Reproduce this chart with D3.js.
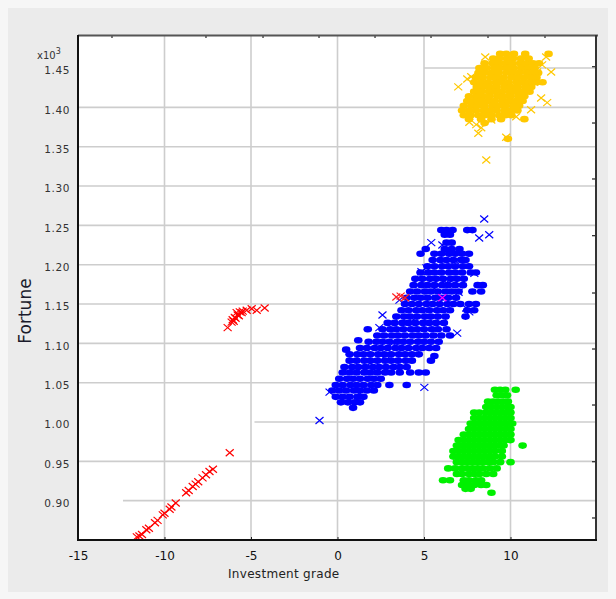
<!DOCTYPE html>
<html>
<head>
<meta charset="utf-8">
<script src="https://cdn.jsdelivr.net/npm/d3@7"></script>
<style>
  body { margin: 0; background: #f6f6f6; }
  svg { display: block; }
</style>
</head>
<body>
<svg id="chart" width="616" height="599"></svg>
<script>
// ---- axis ticks ----
const xTicks = [-15, -10, -5, 0, 5, 10];
const yTicks = [0.90, 0.95, 1.00, 1.05, 1.10, 1.15, 1.20, 1.25, 1.30, 1.35, 1.40, 1.45];

// ---- series (rows of [fortune, [investment grade ...]]) ----
const goldDotRows = [
  [1.468, [9.4, 9.75, 10.2, 10.85, 12.2]],
  [1.462, [9.0, 9.35, 9.8, 10.15, 10.6, 11.05]],
  [1.456, [8.5, 8.95, 9.3, 9.7, 10.1, 10.55, 10.9, 11.3, 11.65]],
  [1.450, [8.2, 8.6, 9.05, 9.4, 9.8, 10.2, 10.65, 11.0, 11.4]],
  [1.444, [8.15, 8.5, 8.9, 9.3, 9.75, 10.1, 10.5, 10.95, 11.3, 11.6]],
  [1.438, [8.0, 8.4, 8.85, 9.2, 9.6, 10.05, 10.4, 10.8, 11.2, 11.5]],
  [1.432, [7.9, 8.3, 8.7, 9.15, 9.5, 9.9, 10.35, 10.7, 11.1, 11.5, 11.85]],
  [1.426, [8.05, 8.4, 8.8, 9.2, 9.65, 10.0, 10.4, 10.85, 11.2]],
  [1.420, [7.9, 8.3, 8.75, 9.1, 9.5, 9.95, 10.3, 10.7, 11.1]],
  [1.414, [7.6, 8.05, 8.4, 8.8, 9.25, 9.6, 10.0, 10.45, 10.8]],
  [1.408, [7.5, 7.9, 8.3, 8.7, 9.1, 9.55, 9.9, 10.3, 10.7]],
  [1.402, [7.3, 7.75, 8.1, 8.5, 8.95, 9.3, 9.7, 10.15, 10.5]],
  [1.396, [7.2, 7.6, 8.0, 8.45, 8.8, 9.2, 9.65, 10.0, 10.4]],
  [1.390, [7.3, 7.7, 8.15, 8.5, 8.9, 9.35, 9.7, 10.05]],
  [1.385, [7.6, 8.3, 8.9, 9.45, 10.8]],
  [1.380, [8.5]],
  [1.360, [9.85]]
];
const goldCrosses = [
  [8.54, 1.464], [7.73, 1.439], [6.98, 1.426], [7.50, 1.436], [12.06, 1.464],
  [11.83, 1.454], [12.35, 1.445], [11.77, 1.412], [12.12, 1.406], [11.19, 1.397],
  [10.33, 1.388], [8.14, 1.367], [8.31, 1.374], [8.02, 1.378], [9.75, 1.362],
  [8.60, 1.333], [11.54, 1.445], [11.37, 1.432], [8.89, 1.384], [7.62, 1.381]
];

const blueDotRows = [
  [1.244, [6.0, 6.3, 6.65, 7.5, 7.8]],
  [1.238, [6.2, 6.5]],
  [1.228, [6.3, 6.6]],
  [1.220, [5.1, 6.2, 6.6, 7.05]],
  [1.214, [4.8, 5.6, 6.0, 6.45, 6.8, 7.2, 7.6]],
  [1.206, [5.5, 5.95, 6.3, 6.7, 7.15, 7.4]],
  [1.198, [5.2, 5.6, 6.05, 6.4, 6.8, 7.25, 7.6]],
  [1.190, [4.8, 5.25, 5.6, 6.0, 6.45, 6.8, 7.2, 7.7, 8.0]],
  [1.182, [4.5, 4.9, 5.35, 5.7, 6.1, 6.55, 6.9, 7.3]],
  [1.174, [4.4, 4.85, 5.2, 5.6, 6.05, 6.4, 6.8, 7.25, 8.1, 8.4]],
  [1.166, [4.2, 4.6, 5.05, 5.4, 5.8, 6.25, 6.6, 7.0, 7.8, 8.3]],
  [1.158, [4.0, 4.45, 4.8, 5.2, 5.65, 6.0, 6.4, 6.85]],
  [1.150, [3.9, 4.3, 4.7, 5.15, 5.5, 5.9, 6.35, 6.7, 7.1, 7.6, 8.0]],
  [1.142, [3.7, 4.1, 4.55, 4.9, 5.3, 5.75, 6.1, 6.5, 7.5, 7.9]],
  [1.134, [3.4, 3.85, 4.2, 4.6, 5.05, 5.4, 5.8, 6.25, 7.4]],
  [1.126, [2.9, 3.3, 3.75, 4.1, 4.5, 4.95, 5.3, 5.7, 6.15]],
  [1.118, [1.75, 2.6, 3.05, 3.4, 3.8, 4.25, 4.6, 5.0, 5.45, 5.8, 6.3]],
  [1.110, [2.3, 2.7, 3.15, 3.5, 3.9, 4.35, 4.7, 5.1, 5.55, 6.0, 6.5]],
  [1.104, [1.2]],
  [1.102, [1.8, 2.25, 2.6, 3.0, 3.45, 3.8, 4.2, 4.65, 5.0, 5.4, 5.85]],
  [1.094, [1.3, 1.7, 2.15, 2.5, 2.9, 3.35, 3.7, 4.1, 4.55, 4.9, 5.3, 5.7]],
  [1.092, [0.5]],
  [1.086, [0.7, 1.15, 1.5, 1.9, 2.35, 2.7, 3.1, 3.55, 3.9, 4.3, 4.7]],
  [1.084, [5.6]],
  [1.078, [0.7, 1.1, 1.55, 1.9, 2.3, 2.75, 3.1, 3.5, 3.95, 4.3, 5.4]],
  [1.070, [0.4, 0.85, 1.2, 1.6, 2.05, 2.4, 2.8, 3.25, 3.6, 4.0]],
  [1.063, [0.3, 0.7, 1.1, 1.55, 1.9, 2.3, 2.75, 3.1, 3.6, 4.2, 4.7, 5.1]],
  [1.055, [0.1, 0.55, 0.9, 1.3, 1.75, 2.1, 2.5]],
  [1.047, [-0.1, 0.3, 0.75, 1.1, 1.5, 1.95, 2.3, 3.0, 4.0]],
  [1.040, [-0.3, 0.1, 0.5, 0.95, 1.3, 1.7, 2.1]],
  [1.032, [-0.1, 0.3, 0.7, 1.15, 1.5]],
  [1.025, [0.2, 0.6, 1.0, 1.3]],
  [1.018, [0.9]]
];
const blueCrosses = [
  [8.48, 1.258], [8.77, 1.238], [8.19, 1.234], [5.42, 1.228], [6.06, 1.225],
  [4.85, 1.191], [5.14, 1.196], [7.91, 1.189], [7.44, 1.145], [7.62, 1.140],
  [2.60, 1.136], [6.92, 1.113], [1.27, 1.037], [-0.46, 1.038], [5.02, 1.044],
  [-1.04, 1.002], [2.42, 1.120], [3.58, 1.155], [6.29, 1.177], [3.2, 1.100],
  [4.4, 1.130], [5.6, 1.170], [1.9, 1.075], [6.8, 1.205], [2.8, 1.085],
  [0.3, 1.028], [7.0, 1.165]
];

const greenDotRows = [
  [1.041, [9.1, 9.4, 9.7, 10.3]],
  [1.034, [9.2, 9.5, 9.8]],
  [1.026, [8.7, 9.0, 9.3, 9.6, 9.85]],
  [1.019, [8.6, 8.9, 9.2, 9.5, 9.8, 10.0]],
  [1.012, [7.9, 8.2, 8.6, 8.9, 9.2, 9.5, 9.8, 10.0]],
  [1.005, [7.9, 8.2, 8.5, 8.8, 9.1, 9.4, 9.7, 10.0]],
  [0.998, [7.7, 8.0, 8.3, 8.6, 8.9, 9.2, 9.5, 9.8, 10.1]],
  [0.991, [7.6, 7.9, 8.2, 8.5, 8.8, 9.1, 9.4, 9.7, 10.0]],
  [0.984, [7.3, 7.6, 7.9, 8.2, 8.5, 8.8, 9.1, 9.4, 9.7, 10.0]],
  [0.977, [7.0, 7.3, 7.6, 7.9, 8.2, 8.5, 8.8, 9.1, 9.4, 9.7, 10.0]],
  [0.970, [6.9, 7.2, 7.5, 7.8, 8.1, 8.4, 8.7, 9.0, 9.3, 9.6, 10.7]],
  [0.963, [6.7, 7.0, 7.3, 7.6, 7.9, 8.2, 8.5, 8.8, 9.1, 9.5]],
  [0.956, [6.7, 7.0, 7.3, 7.6, 7.9, 8.2, 8.5, 8.8, 9.1, 9.5]],
  [0.949, [6.9, 7.2, 7.5, 7.8, 8.1, 8.4, 8.7, 9.0, 9.4, 10.0]],
  [0.941, [6.4, 6.8, 7.2, 7.5, 7.8, 8.1, 8.4, 8.8, 9.2]],
  [0.934, [6.9, 7.2, 7.6, 7.9, 8.2, 8.6, 9.0]],
  [0.926, [6.1, 6.5, 7.3, 7.6, 8.0, 8.3]],
  [0.920, [7.2, 7.5, 7.9, 8.3, 8.6]],
  [0.915, [7.4, 7.7]],
  [0.910, [8.9]]
];

const redDiagonal = [
  [-11.6, 0.854], [-11.45, 0.855], [-11.3, 0.857], [-11.05, 0.863], [-10.9, 0.865],
  [-10.55, 0.872], [-10.4, 0.875], [-10.1, 0.882], [-10.0, 0.884], [-9.7, 0.889],
  [-9.6, 0.892], [-9.35, 0.897], [-8.75, 0.910], [-8.6, 0.913], [-8.37, 0.918],
  [-8.2, 0.921], [-8.05, 0.924], [-7.8, 0.929], [-7.6, 0.933], [-7.4, 0.937],
  [-7.2, 0.940], [-6.23, 0.961]
];
const redCluster = [
  [-6.35, 1.120], [-6.12, 1.127], [-6.06, 1.130], [-5.89, 1.132], [-5.94, 1.133],
  [-5.77, 1.136], [-5.83, 1.139], [-5.65, 1.140], [-5.54, 1.139], [-5.48, 1.141],
  [-5.25, 1.142], [-4.96, 1.144], [-4.67, 1.142], [-4.21, 1.145], [-5.7, 1.135],
  [-6.0, 1.128]
];
const redInBlue = [[3.4, 1.159], [3.65, 1.160], [3.9, 1.158]];
const magentaInBlue = [[6.06, 1.158]];

// ---- layout ----
const svg = d3.select("#chart");
const plot = { left: 78, top: 35, right: 597, bottom: 540 };
const x = d3.scaleLinear().domain([-15, 15]).range([plot.left, plot.right]);
const y = d3.scaleLinear().domain([0.85, 1.492]).range([plot.bottom, plot.top]);
const FONT = "'DejaVu Sans', sans-serif";

// grid lines that begin part-way across the axes
const gridStart = new Map([[1.45, 5], [1.00, -4.8], [0.90, -12.4]]);

const expand = rows => rows.flatMap(([yv, xs]) => xs.map(xv => [xv, yv]));

// background panel
svg.append("rect").attr("x", 8).attr("y", 8).attr("width", 600).attr("height", 584)
  .attr("fill", "#ebebeb");
svg.append("rect")
  .attr("x", plot.left).attr("y", plot.top)
  .attr("width", plot.right - plot.left).attr("height", plot.bottom - plot.top)
  .attr("fill", "#ffffff");

// grid
const grid = svg.append("g").attr("stroke", "#cdcdcd").attr("stroke-width", 1.6);
grid.selectAll("line.v").data(xTicks.filter(d => d > -15)).join("line")
  .attr("class", "v")
  .attr("x1", d => x(d)).attr("x2", d => x(d))
  .attr("y1", plot.top).attr("y2", plot.bottom);
grid.selectAll("line.h").data(yTicks).join("line")
  .attr("class", "h")
  .attr("x1", d => x(gridStart.has(d) ? gridStart.get(d) : -15)).attr("x2", plot.right - 2)
  .attr("y1", d => y(d)).attr("y2", d => y(d));

// markers
const crossPath = "M-4,-3.5L4,3.5M-4,3.5L4,-3.5";
function dots(data, color) {
  svg.append("g").selectAll("ellipse").data(data).join("ellipse")
    .attr("cx", d => x(d[0])).attr("cy", d => y(d[1]))
    .attr("rx", 4.3).attr("ry", 3.3)
    .attr("fill", color);
}
function crosses(data, color) {
  svg.append("g").selectAll("path").data(data).join("path")
    .attr("transform", d => `translate(${x(d[0])},${y(d[1])})`)
    .attr("d", crossPath)
    .attr("fill", "none").attr("stroke", color).attr("stroke-width", 1.2);
}

dots(expand(goldDotRows), "#ffc800");
crosses(goldCrosses, "#ffc800");
dots(expand(blueDotRows), "#0000ff");
crosses(blueCrosses, "#0000ff");
dots(expand(greenDotRows), "#00f000");
crosses(redDiagonal, "#ff0000");
crosses(redCluster, "#ff0000");
crosses(redInBlue, "#ff2020");
crosses(magentaInBlue, "#ff00ff");

// axes
const xAxis = svg.append("g")
  .attr("transform", `translate(0,${plot.bottom})`)
  .call(d3.axisBottom(x).tickValues(xTicks).tickSize(-3).tickPadding(11).tickFormat(d => String(d)));
xAxis.select(".domain").remove();
xAxis.selectAll("line").attr("stroke", "#222");
xAxis.selectAll("text").attr("font-family", FONT).attr("font-size", 12).attr("fill", "#111");

const yAxis = svg.append("g")
  .attr("transform", `translate(${plot.left},0)`)
  .call(d3.axisLeft(y).tickValues(yTicks).tickSize(0).tickPadding(8).tickFormat(d3.format(".2f")));
yAxis.select(".domain").remove();
yAxis.selectAll("text").attr("font-family", FONT).attr("font-size", 10.5)
  .attr("fill", "#333").attr("dy", "0.55em").attr("letter-spacing", 0.6);

// small frame ticks along the top and right edges
const frameX = d3.scaleLinear().domain([0, 1]).range([plot.left, plot.right]);
const frameY = d3.scaleLinear().domain([0, 1]).range([plot.top, plot.bottom]);
const topTickPos = [0.0655, 0.2466, 0.3565, 0.4644, 0.5723, 0.6802, 0.79, 0.8998];
const rightTickPos = [0.0628, 0.1743, 0.2851, 0.3974, 0.5109, 0.6218, 0.7327, 0.845, 0.9564];
svg.append("g").selectAll("line").data(topTickPos).join("line")
  .attr("x1", d => frameX(d)).attr("x2", d => frameX(d))
  .attr("y1", plot.top).attr("y2", plot.top + 3)
  .attr("stroke", "#222").attr("stroke-width", 1.2);
svg.append("g").selectAll("line").data(rightTickPos).join("line")
  .attr("x1", plot.right - 2).attr("x2", plot.right - 5)
  .attr("y1", d => frameY(d)).attr("y2", d => frameY(d))
  .attr("stroke", "#222").attr("stroke-width", 1.2);

// frame
svg.append("line").attr("x1", plot.left).attr("x2", plot.right + 1)
  .attr("y1", plot.top + 0.5).attr("y2", plot.top + 0.5)
  .attr("stroke", "#555").attr("stroke-width", 2);
svg.append("line").attr("x1", plot.right - 1).attr("x2", plot.right - 1)
  .attr("y1", plot.top).attr("y2", plot.bottom)
  .attr("stroke", "#333").attr("stroke-width", 2);
svg.append("line").attr("x1", plot.left).attr("x2", plot.left)
  .attr("y1", plot.top).attr("y2", plot.bottom + 1)
  .attr("stroke", "#111").attr("stroke-width", 2);
svg.append("line").attr("x1", plot.left - 1).attr("x2", plot.right)
  .attr("y1", plot.bottom).attr("y2", plot.bottom)
  .attr("stroke", "#111").attr("stroke-width", 2);

// labels
svg.append("text")
  .attr("x", 228).attr("y", 578)
  .attr("font-family", FONT).attr("font-size", 12).attr("fill", "#222")
  .attr("letter-spacing", 0.3)
  .text("Investment grade");

svg.append("text")
  .attr("transform", "translate(31,311) rotate(-90)")
  .attr("text-anchor", "middle")
  .attr("font-family", FONT).attr("font-size", 17).attr("fill", "#1b1b2b")
  .text("Fortune");

const expo = svg.append("text")
  .attr("x", 37).attr("y", 59)
  .attr("font-family", FONT).attr("font-size", 10).attr("fill", "#333");
expo.append("tspan").text("x10");
expo.append("tspan").attr("dy", -5).attr("font-size", 8).text("3");
</script>
</body>
</html>
